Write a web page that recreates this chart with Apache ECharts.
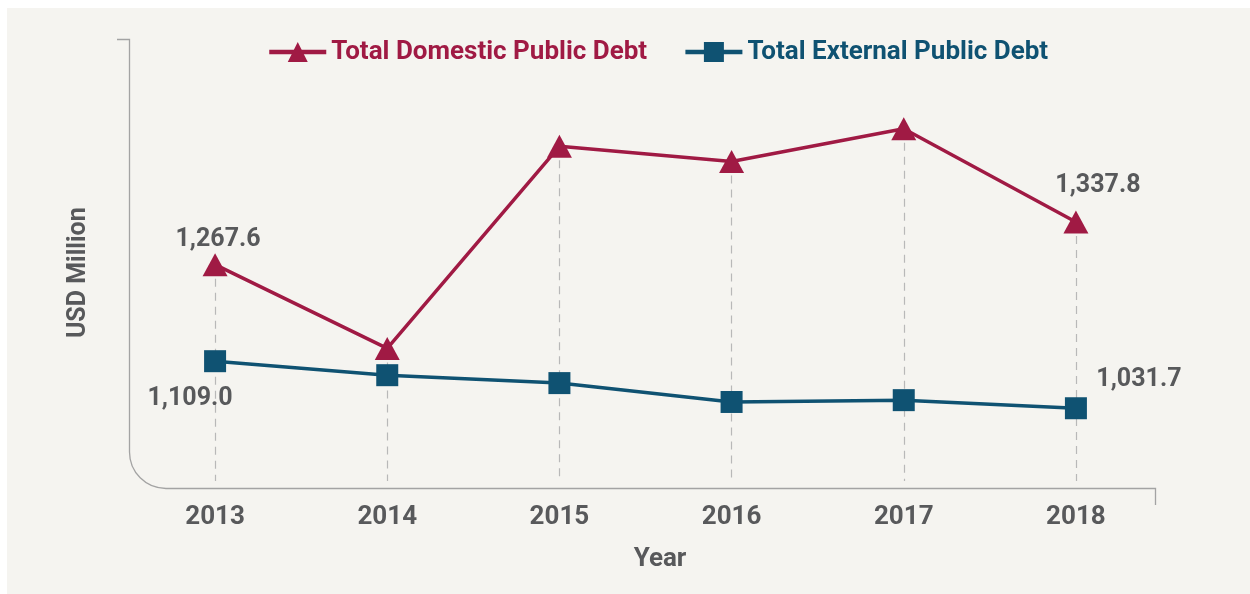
<!DOCTYPE html>
<html>
<head>
<meta charset="utf-8">
<script src="https://cdn.jsdelivr.net/npm/echarts@6/dist/echarts.min.js"></script>
<style>
html,body{margin:0;padding:0;background:#ffffff;}
#chart{width:1250px;height:594px;}
</style>
</head>
<body>
<div id="chart"></div>
<script>
// ---- data ----
const years = ['2013', '2014', '2015', '2016', '2017', '2018'];
const domesticDebt = [1267.6, 1130.0, 1462.0, 1437.0, 1491.0, 1337.8];
const externalDebt = [1109.0, 1086.0, 1073.0, 1042.0, 1045.0, 1031.7];
const seriesNames = ['Total Domestic Public Debt', 'Total External Public Debt'];
const guideBottom = 912;

// ---- styles ----
const RED = '#a01a44';
const BLUE = '#0f5272';
const GREY_TXT = '#58595b';
const FONT = 'Roboto';
const AXIS_GREY = '#a3a3a3';
const W = 'bold';

const labelStyle = { color: GREY_TXT, fontSize: 25, fontWeight: W, fontFamily: FONT };

function fmt(v) {
  return v.toLocaleString('en-US', { minimumFractionDigits: 1, maximumFractionDigits: 1 });
}

const domLabelOffsets = { 0: [3, -25], 5: [22, -36] };
const extLabelOffsets = { 0: [-25, 38], 5: [63, -28] };

function buildData(values, offsets) {
  return values.map((v, i) => {
    const item = { value: v };
    if (offsets[i]) {
      item.label = Object.assign({ show: true, position: 'inside', offset: offsets[i], formatter: fmt(v) }, labelStyle);
    }
    return item;
  });
}

const guideLines = years.map((y, i) => [
  { coord: [y, Math.max(domesticDebt[i], externalDebt[i])] },
  { coord: [y, guideBottom] }
]);

const chart = echarts.init(document.getElementById('chart'), null, { renderer: 'canvas' });

const frameStyle = { fill: null, stroke: AXIS_GREY, lineWidth: 1.3 };

chart.setOption({
  backgroundColor: '#ffffff',
  animation: false,
  textStyle: { fontFamily: FONT },
  graphic: [
    { type: 'rect', z: -10, silent: true, shape: { x: 7, y: 8, width: 1243, height: 586 }, style: { fill: '#f5f4f0' } },
    { type: 'polyline', z: 1, silent: true, shape: { points: [[117, 39.5], [129.5, 39.5], [129.5, 452]] }, style: frameStyle },
    { type: 'arc', z: 1, silent: true, shape: { cx: 166, cy: 452, r: 36.5, startAngle: Math.PI / 2, endAngle: Math.PI, clockwise: true }, style: frameStyle },
    { type: 'polyline', z: 1, silent: true, shape: { points: [[166, 488.5], [1155.5, 488.5], [1155.5, 505]] }, style: frameStyle }
  ],
  grid: { left: 129, right: 88, top: 38, bottom: 105.6, containLabel: false },
  legend: {
    left: 262, top: 34,
    itemWidth: 57, itemHeight: 25, itemGap: 36,
    lineStyle: { width: 4.5 },
    data: [
      { name: seriesNames[0], textStyle: { color: RED } },
      { name: seriesNames[1], textStyle: { color: BLUE } }
    ],
    textStyle: { fontSize: 26, fontWeight: W, fontFamily: FONT }
  },
  xAxis: {
    type: 'category',
    data: years,
    boundaryGap: true,
    axisLine: { show: false },
    axisTick: { show: false },
    axisLabel: { color: GREY_TXT, fontSize: 26, fontWeight: W, fontFamily: FONT, margin: 16 },
    name: 'Year',
    nameLocation: 'middle',
    nameGap: 58,
    nameTextStyle: { color: GREY_TXT, fontSize: 26, fontWeight: W, fontFamily: FONT, padding: [0, 0, 0, 29] }
  },
  yAxis: {
    type: 'value',
    min: 900, max: 1640,
    axisLine: { show: false },
    axisTick: { show: false },
    axisLabel: { show: false },
    splitLine: { show: false },
    name: 'USD Million',
    nameLocation: 'middle',
    nameRotate: 90,
    nameGap: 38,
    nameTextStyle: { color: GREY_TXT, fontSize: 25, fontWeight: W, fontFamily: FONT, padding: [0, 19, 0, 0] }
  },
  series: [
    {
      name: 'guides', type: 'line', data: [], z: 1, silent: true,
      markLine: {
        silent: true, symbol: 'none', animation: false,
        label: { show: false },
        lineStyle: { color: '#b8b8b8', width: 1.2, type: [8, 6] },
        data: guideLines
      }
    },
    {
      name: seriesNames[0], type: 'line', z: 5,
      data: buildData(domesticDebt, domLabelOffsets),
      symbol: 'triangle', symbolSize: [25, 23],
      lineStyle: { color: RED, width: 3.5 },
      itemStyle: { color: RED },
      label: { show: false }
    },
    {
      name: seriesNames[1], type: 'line', z: 5,
      data: buildData(externalDebt, extLabelOffsets),
      symbol: 'rect', symbolSize: 22,
      lineStyle: { color: BLUE, width: 3.5 },
      itemStyle: { color: BLUE },
      label: { show: false }
    }
  ]
});
</script>
</body>
</html>
